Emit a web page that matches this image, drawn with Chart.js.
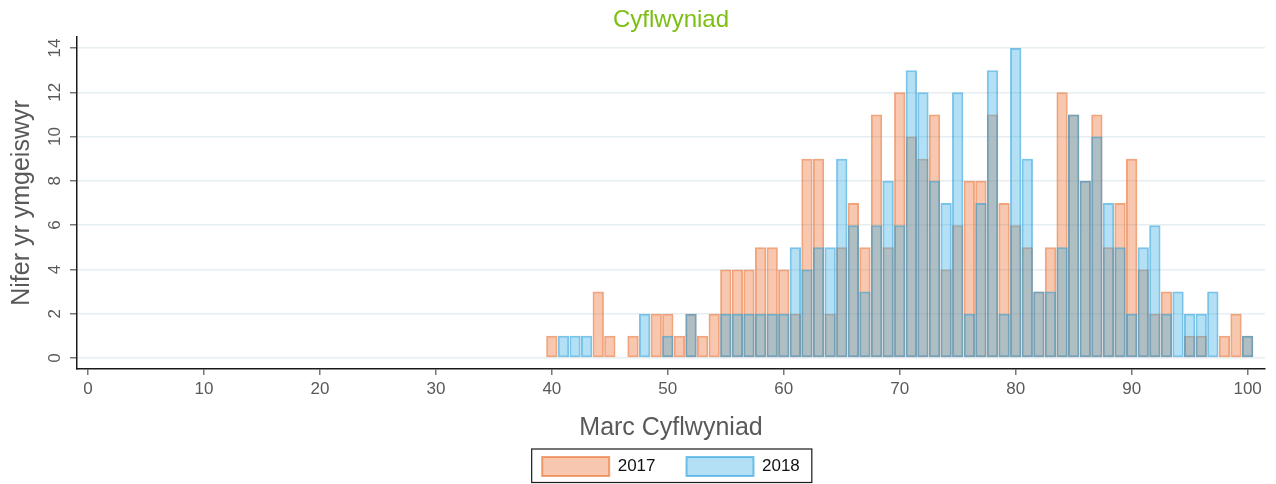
<!DOCTYPE html>
<html>
<head>
<meta charset="utf-8">
<script src="https://cdn.jsdelivr.net/npm/chart.js@4"></script>
<style>
  html, body { margin: 0; padding: 0; background: #fff; }
  #wrap { width: 1276px; height: 484px; }
</style>
</head>
<body>
<div id="wrap"><canvas id="chart" width="1276" height="484"></canvas></div>
<script>
// Marciau (0-100) a nifer yr ymgeiswyr ar gyfer pob marc
const marks = [40, 41, 42, 43, 44, 45, 46, 47, 48, 49,
               50, 51, 52, 53, 54, 55, 56, 57, 58, 59,
               60, 61, 62, 63, 64, 65, 66, 67, 68, 69,
               70, 71, 72, 73, 74, 75, 76, 77, 78, 79,
               80, 81, 82, 83, 84, 85, 86, 87, 88, 89,
               90, 91, 92, 93, 94, 95, 96, 97, 98, 99, 100];
const counts2017 = [1, 0, 0, 0, 3, 1, 0, 1, 0, 2,
                    2, 1, 2, 1, 2, 4, 4, 4, 5, 5,
                    4, 2, 9, 9, 2, 5, 7, 5, 11, 5,
                    12, 10, 9, 11, 4, 6, 8, 8, 11, 7,
                    6, 5, 3, 5, 12, 11, 8, 11, 5, 7,
                    9, 4, 2, 3, 0, 1, 1, 0, 1, 2, 1];
const counts2018 = [0, 1, 1, 1, 0, 0, 0, 0, 2, 0,
                    1, 0, 2, 0, 0, 2, 2, 2, 2, 2,
                    2, 5, 4, 5, 5, 9, 6, 3, 6, 8,
                    6, 13, 12, 8, 7, 12, 2, 7, 13, 2,
                    14, 9, 3, 3, 5, 11, 8, 10, 7, 5,
                    2, 5, 6, 2, 3, 2, 2, 3, 0, 0, 1];
const seriesNames = ['2017', '2018'];

const chartTitle = 'Cyflwyniad';
const xTitle = 'Marc Cyflwyniad';
const yTitle = 'Nifer yr ymgeiswyr';

const FONT = "'Liberation Sans', Arial, sans-serif";
const textGrey = '#595959';

// ffrâm o gwmpas yr allwedd (fel Stata)
const legendFrame = {
    id: 'legendFrame',
    afterDraw(chart) {
        const boxes = chart.legend && chart.legend.legendHitBoxes;
        if (!boxes || !boxes.length) return;
        const first = boxes[0];
        const last = boxes[boxes.length - 1];
        const ctx = chart.ctx;
        ctx.save();
        ctx.strokeStyle = '#1a1a1a';
        ctx.lineWidth = 1.2;
        ctx.strokeRect(first.left - 10.5, first.top - 8,
            (last.left + last.width) - first.left + 22.5, first.height + 14.5);
        ctx.restore();
    }
};

function toPoints(counts) {
    return marks.map((m, i) => ({ x: m, y: counts[i] }));
}

const data = {
    datasets: [
        {
            label: seriesNames[0],
            data: toPoints(counts2017),
            backgroundColor: 'rgba(234, 110, 45, 0.38)',
            borderColor: 'rgba(234, 110, 45, 0.62)',
            borderWidth: 2,
            borderSkipped: false,
            grouped: false,
            order: 1
        },
        {
            label: seriesNames[1],
            data: toPoints(counts2018),
            backgroundColor: 'rgba(55, 174, 229, 0.38)',
            borderColor: 'rgba(40, 160, 220, 0.62)',
            borderWidth: 2,
            borderSkipped: false,
            grouped: false,
            order: 0
        }
    ]
};

const config = {
    type: 'bar',
    data: data,
    options: {
        responsive: false,
        animation: false,
        barPercentage: 0.975,
        categoryPercentage: 1,
        layout: { padding: { left: 0, right: 11, top: 0, bottom: -2 } },
        plugins: {
            title: {
                display: true,
                text: chartTitle,
                fullSize: false,
                color: '#7cbf13',
                font: { family: FONT, size: 24, weight: 'normal', lineHeight: 1.2 },
                padding: { top: 6, bottom: 2.2 }
            },
            legend: {
                position: 'bottom',
                fullSize: false,
                reverse: true,
                labels: {
                    boxWidth: 67,
                    boxHeight: 19,
                    padding: 31,
                    color: '#111',
                    font: { family: FONT, size: 17 }
                }
            },
            tooltip: { enabled: false }
        },
        scales: {
            x: {
                type: 'linear',
                offset: false,
                min: -0.95,
                max: 101.5,
                afterFit: (scale) => { scale.height = 57; },
                ticks: {
                    stepSize: 10,
                    includeBounds: false,
                    color: textGrey,
                    padding: 4,
                    maxRotation: 0,
                    font: { family: FONT, size: 17 }
                },
                grid: {
                    display: true,
                    offset: false,
                    drawOnChartArea: false,
                    drawTicks: true,
                    tickLength: 6,
                    tickColor: '#777',
                    lineWidth: 1.5
                },
                border: { display: true, color: '#1a1a1a', width: 1.5 },
                title: {
                    display: true,
                    text: xTitle,
                    color: textGrey,
                    font: { family: FONT, size: 25, lineHeight: 1 },
                    padding: { top: 0, bottom: -14.5 }
                }
            },
            y: {
                min: -0.5,
                max: 14.5,
                afterFit: (scale) => { scale.width = 77; },
                ticks: {
                    stepSize: 2,
                    includeBounds: false,
                    minRotation: 90,
                    maxRotation: 90,
                    crossAlign: 'center',
                    color: textGrey,
                    padding: 5,
                    font: { family: FONT, size: 17 }
                },
                grid: {
                    color: '#e6eef1',
                    lineWidth: 1.5,
                    tickLength: 7,
                    tickColor: '#777'
                },
                border: { display: true, color: '#1a1a1a', width: 1.5 },
                title: {
                    display: true,
                    text: yTitle,
                    color: textGrey,
                    font: { family: FONT, size: 25, lineHeight: 1 },
                    padding: { top: 10, bottom: 0 }
                }
            }
        }
    },
    plugins: [legendFrame]
};

const ctx = document.getElementById('chart').getContext('2d');
window.cyflwyniadChart = new Chart(ctx, config);
</script>
</body>
</html>
